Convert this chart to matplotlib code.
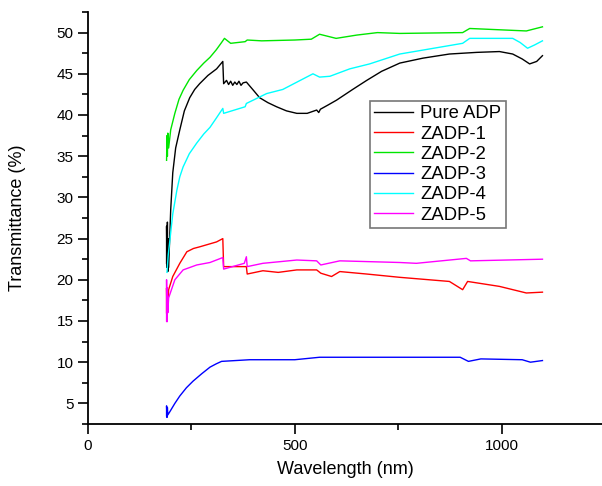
import matplotlib.pyplot as plt
from matplotlib.ticker import MultipleLocator

plt.rcParams['font.family'] = ['Liberation Sans', 'DejaVu Sans']

# Transmittance spectra (wavelength nm, transmittance %)
pure_x = [190, 190, 191, 192, 193, 194, 195, 200, 205, 212, 222, 233, 246, 258, 270, 290, 311, 326, 328, 335, 340, 345, 350, 355, 360, 365, 370, 375, 383,
          400, 415, 435, 456, 480, 505, 530, 553, 558, 562, 580, 601, 640, 674, 710, 754, 810, 874, 940, 995, 1027, 1050, 1068, 1085, 1099]
pure_y = [22, 26.5, 21.5, 27, 21, 25, 21.5, 28.5, 33, 36, 38.2, 40.5, 42.1, 43.1, 43.8, 44.8, 45.6, 46.5, 43.8, 44.2, 43.7, 44.1, 43.6, 44.0, 43.7, 44.1, 43.6, 43.9, 44.0,
          43.0, 42.1, 41.5, 41.0, 40.5, 40.2, 40.2, 40.6, 40.3, 40.7, 41.2, 41.8, 43.1, 44.2, 45.3, 46.3, 46.9, 47.4, 47.6, 47.7, 47.4, 46.8, 46.2, 46.5, 47.2]

z1_x = [190, 190, 191, 192, 193, 195, 205, 222, 239, 255, 270, 311, 326, 328, 383, 385, 423, 460, 505, 553, 563, 589, 609, 674, 754, 874, 906, 918, 995, 1060, 1099]
z1_y = [16, 19, 15.5, 18.5, 17, 18.8, 20.4, 22.0, 23.4, 23.8, 24.0, 24.6, 25.0, 21.6, 21.6, 20.7, 21.1, 20.9, 21.2, 21.2, 20.8, 20.4, 21.0, 20.7, 20.3, 19.8, 18.8, 19.8, 19.2, 18.4, 18.5]

z2_x = [190, 191, 192, 193, 195, 200, 210, 220, 230, 245, 263, 280, 295, 310, 323, 330, 345, 380, 385, 420, 500, 540, 560, 600, 650, 700, 754, 906, 923, 1060, 1099]
z2_y = [34.5, 37.5, 35, 37.8, 36, 38.2, 40.2, 41.9, 43, 44.3, 45.4, 46.3, 47, 47.9, 48.8, 49.3, 48.7, 48.9, 49.1, 49.0, 49.1, 49.2, 49.8, 49.3, 49.7, 50.0, 49.9, 50.0, 50.5, 50.2, 50.7]

z3_x = [190, 190, 191, 192, 193, 198, 210, 222, 238, 254, 275, 295, 310, 323, 391, 500, 560, 700, 900, 920, 950, 1050, 1070, 1099]
z3_y = [3.5, 4.7, 3.3, 4.5, 3.6, 4.0, 5.0, 5.9, 6.9, 7.7, 8.6, 9.4, 9.8, 10.1, 10.3, 10.3, 10.6, 10.6, 10.6, 10.1, 10.4, 10.3, 10.0, 10.2]

z4_x = [191, 194, 198, 205, 215, 222, 230, 245, 263, 280, 295, 310, 326, 328, 380, 383, 432, 471, 544, 560, 585, 633, 681, 754, 906, 923, 1027, 1045, 1063, 1080, 1099]
z4_y = [20.9, 23.0, 24.8, 28.0, 30.9, 32.5, 33.7, 35.3, 36.6, 37.7, 38.5, 39.6, 40.8, 40.2, 41.0, 41.4, 42.6, 43.1, 45.0, 44.6, 44.7, 45.6, 46.2, 47.4, 48.7, 49.3, 49.3, 48.8, 48.1, 48.5, 49.0]

z5_x = [190, 190, 191, 192, 193, 195, 210, 230, 263, 295, 326, 328, 378, 383, 385, 423, 505, 553, 563, 609, 754, 794, 915, 925, 1099]
z5_y = [15, 20, 14.9, 19, 16, 17.8, 20.0, 21.2, 21.8, 22.1, 22.7, 21.3, 22.0, 22.8, 21.6, 22.0, 22.4, 22.3, 21.8, 22.3, 22.1, 22.0, 22.6, 22.3, 22.5]

fig = plt.figure(figsize=(6.02, 4.86), dpi=100)
ax = fig.add_axes([88 / 602, 62 / 486, 514 / 602, 412 / 486])

ax.plot(pure_x, pure_y, color='black', lw=1, label='Pure ADP')
ax.plot(z1_x, z1_y, color='red', lw=1, label='ZADP-1')
ax.plot(z2_x, z2_y, color='#00e600', lw=1, label='ZADP-2')
ax.plot(z3_x, z3_y, color='blue', lw=1, label='ZADP-3')
ax.plot(z4_x, z4_y, color='cyan', lw=1, label='ZADP-4')
ax.plot(z5_x, z5_y, color='magenta', lw=1, label='ZADP-5')

ax.set_xlim(0, 1243)
ax.set_ylim(2.5, 52.5)
ax.xaxis.set_major_locator(MultipleLocator(500))
ax.xaxis.set_minor_locator(MultipleLocator(250))
ax.yaxis.set_minor_locator(MultipleLocator(2.5))
ax.set_yticks(range(5, 51, 5))

for s in ['top', 'right']:
    ax.spines[s].set_visible(False)
for s in ['left', 'bottom']:
    ax.spines[s].set_linewidth(1.3)
ax.tick_params(which='major', direction='out', length=7, width=1.2, labelsize=11)
ax.tick_params(which='minor', direction='out', length=4, width=1.2)

ax.set_xlabel('Wavelength (nm)', fontsize=13, labelpad=6)
ax.set_ylabel('Transmittance (%)', fontsize=13, labelpad=22)

leg = ax.legend(loc='upper left', bbox_to_anchor=(0.548, 0.785), fontsize=13.3, frameon=True, fancybox=False,
                handlelength=2.1, labelspacing=0.18, borderpad=0.25, handletextpad=0.4, borderaxespad=0)
leg.get_frame().set_edgecolor('#555555')
leg.get_frame().set_linewidth(1.2)

fig.savefig('out.png', dpi=100)
